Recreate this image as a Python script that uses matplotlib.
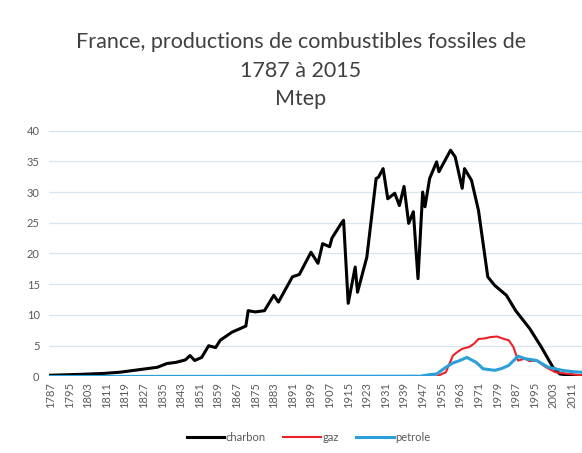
import matplotlib

matplotlib.use("Agg")

import matplotlib.pyplot as plt

# values (Mtep)
coal_years = [1787, 1800, 1810, 1817, 1825, 1833, 1837, 1841, 1845, 1847, 1849,
              1852, 1855, 1858, 1860, 1865, 1871, 1872, 1875, 1879, 1883, 1885,
              1891, 1894, 1899, 1902, 1904, 1907, 1908, 1912, 1913, 1915, 1918,
              1919, 1923, 1927, 1928, 1930, 1932, 1935, 1937, 1939, 1941, 1943,
              1945, 1947, 1948, 1950, 1953, 1954, 1957, 1959, 1961, 1964, 1965,
              1968, 1971, 1975, 1978, 1983, 1987, 1993, 1998, 2003, 2006, 2011,
              2015]
coal_values = [0.2, 0.35, 0.5, 0.7, 1.1, 1.5, 2.1, 2.3, 2.7, 3.4, 2.6,
               3.1, 5.0, 4.7, 5.9, 7.2, 8.2, 10.7, 10.5, 10.7, 13.2, 12.1,
               16.2, 16.6, 20.2, 18.4, 21.6, 21.1, 22.5, 24.9, 25.4, 11.9, 17.8,
               13.7, 19.4, 32.2, 32.4, 33.8, 28.9, 29.8, 27.8, 30.9, 24.9, 26.8,
               15.9, 30.0, 27.6, 32.2, 34.9, 33.3, 35.4, 36.8, 35.7, 30.6, 33.8,
               31.9, 27.0, 16.2, 14.8, 13.2, 10.7, 7.8, 4.8, 1.5, 0.4, 0.2,
               0.1]

gas_years = [1787, 1953, 1957, 1960, 1962, 1964, 1967, 1969, 1971, 1974, 1976,
             1979, 1982, 1984, 1986, 1988, 1991, 1993, 1996, 2000, 2004, 2008,
             2015]
gas_values = [0.0, 0.0, 0.7, 3.4, 4.0, 4.5, 4.8, 5.3, 6.1, 6.2, 6.4,
              6.5, 6.1, 5.9, 4.8, 2.6, 2.9, 2.5, 2.6, 1.5, 0.7, 0.5,
              0.2]

oil_years = [1787, 1946, 1950, 1953, 1957, 1960, 1963, 1966, 1970, 1973, 1978,
             1981, 1984, 1988, 1991, 1996, 2001, 2007, 2011, 2015]
oil_values = [0.0, 0.05, 0.3, 0.4, 1.5, 2.2, 2.6, 3.1, 2.3, 1.25, 1.0,
              1.3, 1.8, 3.3, 2.9, 2.6, 1.5, 1.0, 0.8, 0.7]

tick_years = list(range(1787, 2016, 8))
y_ticks = [0, 5, 10, 15, 20, 25, 30, 35, 40]

TEXT_GREY = "#595959"
GRID_BLUE = "#d5e6ee"


def draw_chart():
    plt.rcParams["font.family"] = ["Lato", "DejaVu Sans"]
    fig = plt.figure(figsize=(5.82, 4.53), dpi=100)
    ax = fig.add_axes([0.0847, 0.1689, 0.9153, 0.543])

    ax.plot(coal_years, coal_values, color="black", linewidth=2.2,
            solid_joinstyle="round", label="charbon", zorder=3)
    ax.plot(gas_years, gas_values, color="#ec2127", linewidth=1.5,
            solid_joinstyle="round", label="gaz", zorder=4)
    ax.plot(oil_years, oil_values, color="#2a9fd8", linewidth=2.2,
            solid_joinstyle="round", label="petrole", zorder=5)

    ax.set_xlim(1786.5, 2015.5)
    ax.set_ylim(0, 40)
    ax.set_xticks(tick_years)
    ax.set_xticklabels([str(y) for y in tick_years], rotation=90)
    ax.set_yticks(y_ticks)
    ax.tick_params(axis="x", length=0, pad=4, labelsize=8, labelcolor=TEXT_GREY)
    ax.tick_params(axis="y", length=0, pad=7, labelsize=8, labelcolor=TEXT_GREY)
    ax.grid(axis="y", color=GRID_BLUE, linewidth=0.9)
    ax.set_axisbelow(True)
    for spine in ax.spines.values():
        spine.set_visible(False)

    fig.text(0.517, 0.93, "France, productions de combustibles fossiles de\n1787 à 2015\nMtep",
             ha="center", va="top", fontsize=15.5, color="#404040", linespacing=1.55)

    legend = fig.legend(loc="center", bbox_to_anchor=(0.53, 0.035), ncol=3,
                        frameon=False, fontsize=8, handlelength=3.4,
                        handletextpad=0.1, columnspacing=1.6)
    for text in legend.get_texts():
        text.set_color(TEXT_GREY)

    fig.savefig("out.png", dpi=100, facecolor="white")
    plt.close(fig)


if __name__ == "__main__":
    draw_chart()
